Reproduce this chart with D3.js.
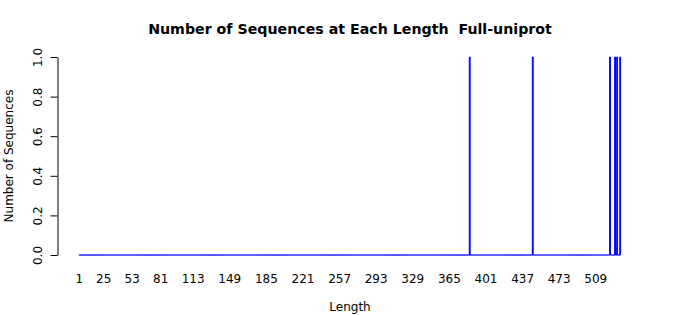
<!DOCTYPE html>
<meta charset="utf-8">
<style>
body { margin: 0; background: #fff; }
text { font-family: "DejaVu Sans", sans-serif; }
</style>
<body>
<script src="https://d3js.org/d3.v7.min.js"></script>
<script>

// sequence lengths 1..533, count of sequences at each length (only a few are non-zero)
var maxLength = 533;
var hitLengths = [385, 447, 523, 528, 530, 533];
var hitCounts = [1, 1, 1, 1, 1, 1];

// labels that survive on the x axis
var xTickLabels = [1, 25, 53, 81, 113, 149, 185, 221, 257, 293, 329, 365, 401, 437, 473, 509];
var yTicks = [0, 0.2, 0.4, 0.6, 0.8, 1.0];

var lengths = d3.range(1, maxLength + 1);
var counts = lengths.map(function(l) {
  var i = hitLengths.indexOf(l);
  return i < 0 ? 0 : hitCounts[i];
});

var width = 700, height = 315;

var svg = d3.select("body").append("svg")
    .attr("width", width)
    .attr("height", height);

// set the ranges
var x = d3.scaleBand()
    .domain(lengths)
    .range([78.9, 620.6])
    .paddingInner(0.2 / 1.2)
    .paddingOuter(0);

var y = d3.scaleLinear()
    .domain([0, 1])
    .range([255, 57]);

// bars as paths so zero counts still show their border
svg.append("g")
  .selectAll("path")
  .data(lengths)
  .enter().append("path")
    .attr("d", function(d, i) {
      var x0 = x(d), x1 = x(d) + x.bandwidth();
      return "M" + x0 + "," + y(0) + "H" + x1 + "V" + y(counts[i]) + "H" + x0 + "Z";
    })
    .attr("fill", "blue")
    .attr("stroke", "blue")
    .attr("stroke-width", 1);

// y axis
var yAxis = svg.append("g")
    .attr("transform", "translate(57.5,0)")
    .call(d3.axisLeft(y).tickValues(yTicks).tickSize(7).tickSizeOuter(0)
      .tickFormat(d3.format(".1f")));
yAxis.select(".domain").attr("stroke", "#000");
yAxis.selectAll("text").remove();
yAxis.selectAll(".tick").append("text")
    .attr("transform", "translate(-15.5,0) rotate(-90)")
    .attr("text-anchor", "middle")
    .attr("fill", "#000")
    .style("font-size", "12px")
    .text(function(d) { return d3.format(".1f")(d); });

// x labels, no ticks
svg.append("g")
  .selectAll("text")
  .data(xTickLabels)
  .enter().append("text")
    .attr("x", function(d) { return x(d) + x.bandwidth() / 2; })
    .attr("y", 283)
    .attr("text-anchor", "middle")
    .style("font-size", "12px")
    .text(function(d) { return d; });

// titles
svg.append("text")
    .attr("x", 350)
    .attr("y", 34)
    .attr("text-anchor", "middle")
    .style("font-size", "14.2px")
    .style("font-weight", "bold")
    .style("white-space", "pre")
    .text("Number of Sequences at Each Length  Full-uniprot");

svg.append("text")
    .attr("x", 350)
    .attr("y", 311)
    .attr("text-anchor", "middle")
    .style("font-size", "12px")
    .text("Length");

svg.append("text")
    .attr("transform", "translate(12.5,156) rotate(-90)")
    .attr("text-anchor", "middle")
    .style("font-size", "12px")
    .text("Number of Sequences");

</script>
</body>
